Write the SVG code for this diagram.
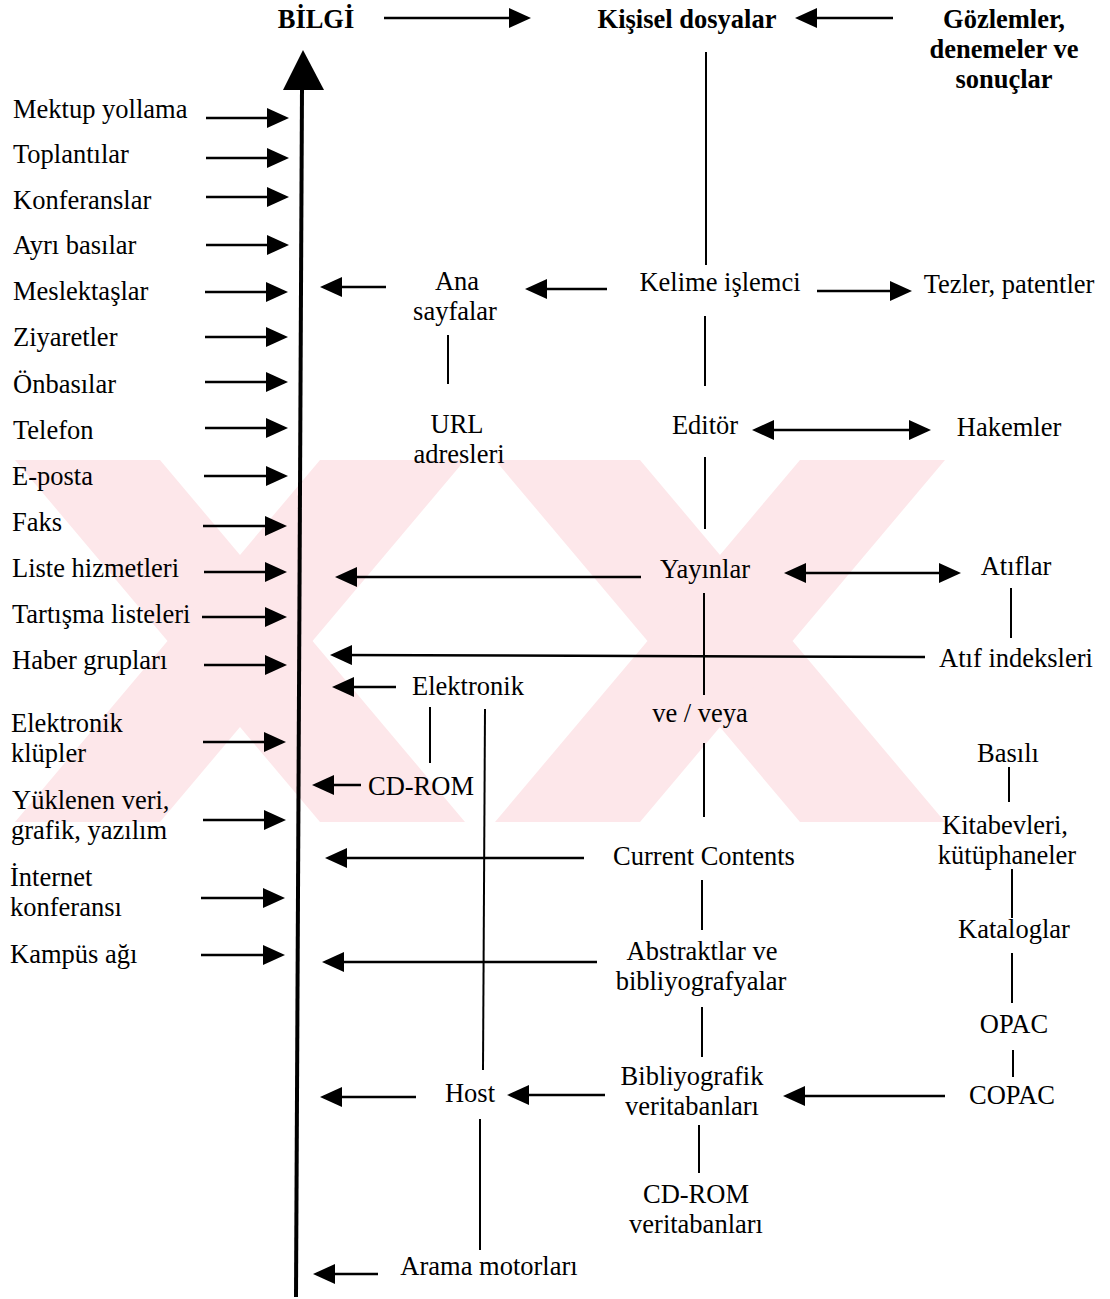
<svg xmlns="http://www.w3.org/2000/svg" width="1110" height="1299" viewBox="0 0 1110 1299">
<style>
.t{font-family:"Liberation Serif","Times New Roman",serif;font-size:26.5px;fill:#000}
.b{font-weight:bold}
.m{text-anchor:middle}
.a{stroke:#000;stroke-width:2.5;fill:none;marker-end:url(#ah)}
.d{stroke:#000;stroke-width:2.5;fill:none;marker-start:url(#ah);marker-end:url(#ah)}
.l{stroke:#000;stroke-width:2;fill:none}
.wm{fill:#fde7ea}
</style>
<defs>
<marker id="ah" viewBox="0 0 22 20" refX="18" refY="10" markerWidth="22" markerHeight="20" markerUnits="userSpaceOnUse" orient="auto-start-reverse">
<path d="M0,0 L22,10 L0,20 z" fill="#000"/>
</marker>
</defs>
<rect width="1110" height="1299" fill="#fff"/>
<g id="watermark">
<polygon class="wm" points="15,460 160,460 465,822 320,822"/>
<polygon class="wm" points="320,460 465,460 160,822 15,822"/>
<polygon class="wm" points="495,460 640,460 945,822 800,822"/>
<polygon class="wm" points="800,460 945,460 640,822 495,822"/>
</g>
<g id="connectors">
<line class="a" x1="384" y1="18" x2="527" y2="18"/>
<line class="a" x1="893" y1="18" x2="799" y2="18"/>
<line x1="302" y1="88" x2="296" y2="1297" stroke="#000" stroke-width="4"/>
<polygon points="303,50 283,90 324,90" fill="#000"/>
<line class="a" x1="206" y1="118" x2="285" y2="118"/>
<line class="a" x1="206" y1="158" x2="285" y2="158"/>
<line class="a" x1="206" y1="197" x2="285" y2="197"/>
<line class="a" x1="206" y1="245" x2="285" y2="245"/>
<line class="a" x1="205" y1="292" x2="284" y2="292"/>
<line class="a" x1="205" y1="337" x2="284" y2="337"/>
<line class="a" x1="205" y1="382" x2="284" y2="382"/>
<line class="a" x1="205" y1="428" x2="284" y2="428"/>
<line class="a" x1="204" y1="476" x2="284" y2="476"/>
<line class="a" x1="203" y1="526" x2="283" y2="526"/>
<line class="a" x1="204" y1="572" x2="283" y2="572"/>
<line class="a" x1="202" y1="617" x2="283" y2="617"/>
<line class="a" x1="204" y1="665" x2="283" y2="665"/>
<line class="a" x1="203" y1="742" x2="282" y2="742"/>
<line class="a" x1="203" y1="820" x2="282" y2="820"/>
<line class="a" x1="201" y1="898" x2="281" y2="898"/>
<line class="a" x1="201" y1="955" x2="281" y2="955"/>
<line class="a" x1="386" y1="287" x2="324" y2="287"/>
<line class="a" x1="607" y1="289" x2="529" y2="289"/>
<line class="a" x1="817" y1="291" x2="908" y2="291"/>
<line class="d" x1="756" y1="430" x2="927" y2="430"/>
<line class="a" x1="641" y1="577" x2="339" y2="577"/>
<line class="d" x1="788" y1="573" x2="957" y2="573"/>
<line class="a" x1="925" y1="657" x2="334" y2="655"/>
<line class="a" x1="396" y1="687" x2="336" y2="687"/>
<line class="a" x1="361" y1="785" x2="316" y2="785"/>
<line class="a" x1="584" y1="858" x2="329" y2="858"/>
<line class="a" x1="597" y1="962" x2="326" y2="962"/>
<line class="a" x1="605" y1="1095" x2="511" y2="1095"/>
<line class="a" x1="416" y1="1097" x2="324" y2="1097"/>
<line class="a" x1="945" y1="1096" x2="787" y2="1096"/>
<line class="a" x1="378" y1="1274" x2="317" y2="1274"/>
<line class="l" x1="706" y1="52" x2="706" y2="265"/>
<line class="l" x1="705" y1="316" x2="705" y2="386"/>
<line class="l" x1="448" y1="335" x2="448" y2="384"/>
<line class="l" x1="705" y1="457" x2="705" y2="529"/>
<line class="l" x1="704" y1="593" x2="704" y2="695"/>
<line class="l" x1="704" y1="743" x2="704" y2="817"/>
<line class="l" x1="1011" y1="588" x2="1011" y2="638"/>
<line class="l" x1="430" y1="707" x2="430" y2="763"/>
<line class="l" x1="485" y1="709" x2="483" y2="1070"/>
<line class="l" x1="702" y1="880" x2="702" y2="930"/>
<line class="l" x1="702" y1="1007" x2="702" y2="1057"/>
<line class="l" x1="699" y1="1125" x2="699" y2="1173"/>
<line class="l" x1="480" y1="1119" x2="480" y2="1250"/>
<line class="l" x1="1009" y1="767" x2="1009" y2="802"/>
<line class="l" x1="1012" y1="869" x2="1012" y2="918"/>
<line class="l" x1="1012" y1="953" x2="1012" y2="1003"/>
<line class="l" x1="1013" y1="1050" x2="1013" y2="1077"/>
</g>
<g id="n-bilgi"><text class="t b m" x="316" y="28">BİLGİ</text></g>
<g id="n-kisisel"><text class="t b m" x="687" y="28">Kişisel dosyalar</text></g>
<g id="n-gozlemler"><text class="t b m" x="1004" y="28">Gözlemler,</text><text class="t b m" x="1004" y="58">denemeler ve</text><text class="t b m" x="1004" y="88">sonuçlar</text></g>
<g id="n-mektup"><text class="t" x="13" y="118">Mektup yollama</text></g>
<g id="n-toplanti"><text class="t" x="13" y="163">Toplantılar</text></g>
<g id="n-konferans"><text class="t" x="13" y="209">Konferanslar</text></g>
<g id="n-ayri"><text class="t" x="13" y="254">Ayrı basılar</text></g>
<g id="n-meslek"><text class="t" x="13" y="300">Meslektaşlar</text></g>
<g id="n-ziyaret"><text class="t" x="13" y="346">Ziyaretler</text></g>
<g id="n-onbasi"><text class="t" x="13" y="393">Önbasılar</text></g>
<g id="n-telefon"><text class="t" x="13" y="439">Telefon</text></g>
<g id="n-eposta"><text class="t" x="12" y="485">E-posta</text></g>
<g id="n-faks"><text class="t" x="12" y="531">Faks</text></g>
<g id="n-liste"><text class="t" x="12" y="577">Liste hizmetleri</text></g>
<g id="n-tartisma"><text class="t" x="12" y="623">Tartışma listeleri</text></g>
<g id="n-haber"><text class="t" x="12" y="669">Haber grupları</text></g>
<g id="n-eklup"><text class="t" x="11" y="732">Elektronik</text><text class="t" x="11" y="762">klüpler</text></g>
<g id="n-yuklenen"><text class="t" x="12" y="809">Yüklenen veri,</text><text class="t" x="11" y="839">grafik, yazılım</text></g>
<g id="n-internet"><text class="t" x="10" y="886">İnternet</text><text class="t" x="10" y="916">konferansı</text></g>
<g id="n-kampus"><text class="t" x="10" y="963">Kampüs ağı</text></g>
<g id="n-ana"><text class="t m" x="457" y="290">Ana</text><text class="t m" x="455" y="320">sayfalar</text></g>
<g id="n-kelime"><text class="t m" x="720" y="291">Kelime işlemci</text></g>
<g id="n-tezler"><text class="t m" x="1009" y="293">Tezler, patentler</text></g>
<g id="n-url"><text class="t m" x="457" y="433">URL</text><text class="t m" x="459" y="463">adresleri</text></g>
<g id="n-editor"><text class="t m" x="705" y="434">Editör</text></g>
<g id="n-hakemler"><text class="t m" x="1009" y="436">Hakemler</text></g>
<g id="n-yayinlar"><text class="t m" x="705" y="578">Yayınlar</text></g>
<g id="n-atiflar"><text class="t m" x="1016" y="575">Atıflar</text></g>
<g id="n-atifind"><text class="t m" x="1016" y="667">Atıf indeksleri</text></g>
<g id="n-elektronik"><text class="t m" x="468" y="695">Elektronik</text></g>
<g id="n-veveya"><text class="t m" x="700" y="722">ve / veya</text></g>
<g id="n-cdrom"><text class="t m" x="421" y="795">CD-ROM</text></g>
<g id="n-basili"><text class="t m" x="1008" y="762">Basılı</text></g>
<g id="n-kitabevleri"><text class="t m" x="1005" y="834">Kitabevleri,</text><text class="t m" x="1007" y="864">kütüphaneler</text></g>
<g id="n-cc"><text class="t m" x="704" y="865">Current Contents</text></g>
<g id="n-kataloglar"><text class="t m" x="1014" y="938">Kataloglar</text></g>
<g id="n-abstrakt"><text class="t m" x="702" y="960">Abstraktlar ve</text><text class="t m" x="701" y="990">bibliyografyalar</text></g>
<g id="n-opac"><text class="t m" x="1014" y="1033">OPAC</text></g>
<g id="n-bibvt"><text class="t m" x="692" y="1085">Bibliyografik</text><text class="t m" x="692" y="1115">veritabanları</text></g>
<g id="n-host"><text class="t m" x="470" y="1102">Host</text></g>
<g id="n-copac"><text class="t m" x="1012" y="1104">COPAC</text></g>
<g id="n-cdvt"><text class="t m" x="696" y="1203">CD-ROM</text><text class="t m" x="696" y="1233">veritabanları</text></g>
<g id="n-arama"><text class="t m" x="489" y="1275">Arama motorları</text></g>
</svg>
